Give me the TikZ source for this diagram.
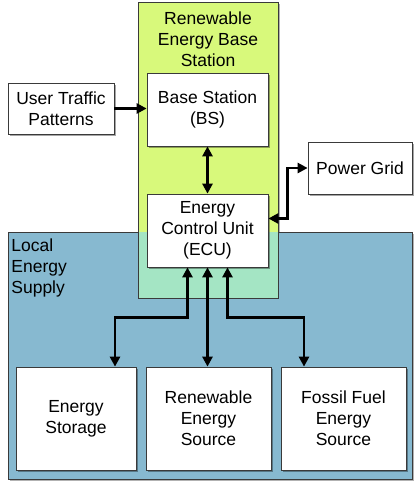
\documentclass[tikz,border=0pt]{standalone}
\usepackage{fontspec}
\setmainfont{Liberation Sans}
\usetikzlibrary{arrows.meta,shadows}
\tikzset{every picture/.style={line width=0.75pt}}
\definecolor{basegreen}{HTML}{D8F97B}
\definecolor{supplyblue}{HTML}{87B9D0}
\definecolor{overlapgreen}{HTML}{A4E5C4}
\definecolor{edgegray}{HTML}{3A3A3A}
\tikzset{
  unit/.style={draw=edgegray, fill=white, align=center, inner sep=2pt,
    drop shadow={shadow xshift=1.5pt, shadow yshift=-1.5pt, opacity=0.35, fill=black}},
  region/.style={draw=edgegray, line width=0.6pt,
    drop shadow={shadow xshift=1.5pt, shadow yshift=-1.5pt, opacity=0.3, fill=black}},
  flow/.style={line width=2.6pt, line join=miter}
}

\begin{document}
\begin{tikzpicture}[x=1pt, y=-1pt, >={Triangle[length=10pt,width=10pt]},
    every node/.style={font=\fontsize{17.5}{21}\selectfont}]
    \useasboundingbox (0,0) rectangle (413,485);
    % containers
    \fill[region, fill=basegreen] (138,2) rectangle (278,298);
    \fill[region, fill=supplyblue] (8,232) rectangle (412,479);
    \fill[overlapgreen] (138.3,232.3) rectangle (277.7,297.7);
    \draw[edgegray, line width=0.6pt] (138,232) -- (138,298) -- (278,298) -- (278,232);
    \node[align=center] (stationlabel) at (208,39) {Renewable\\Energy Base\\Station};
    \node[align=left, anchor=north west, inner sep=0pt] (supplylabel) at (11,238) {Local\\Energy\\Supply};
    % units
    \node[unit, minimum width=106pt, minimum height=51pt] (user) at (61,108.5) {User Traffic\\Patterns};
    \node[unit, minimum width=121pt, minimum height=73pt] (bs) at (207.5,109.5) {Base Station\\(BS)};
    \node[unit, minimum width=121pt, minimum height=73pt] (ecu) at (207.5,230.5) {Energy\\Control Unit\\(ECU)};
    \node[unit, minimum width=104pt, minimum height=52pt] (grid) at (360,168) {Power Grid};
    \node[unit, minimum width=120pt, minimum height=103pt] (storage) at (76,418.5) {Energy\\Storage};
    \node[unit, minimum width=125pt, minimum height=103pt] (renew) at (208.5,418.5) {Renewable\\Energy\\Source};
    \node[unit, minimum width=125pt, minimum height=103pt] (fossil) at (343.5,418.5) {Fossil Fuel\\Energy\\Source};
    % connectors
    \draw[flow, ->] (user.east) -- (user.east -| bs.west);
    \draw[flow, <->] (bs.south) -- (ecu.north);
    \draw[flow, <->] ([yshift=12pt]ecu.east) -| ([xshift=-20pt]grid.west) -- (grid.west);
    \draw[flow, <->] ([xshift=-20pt]ecu.south) -- ++(0,50) -| ([xshift=39pt]storage.north);
    \draw[flow, <->] (ecu.south) -- (ecu.south |- renew.north);
    \draw[flow, <->] ([xshift=20pt]ecu.south) -- ++(0,50) -| ([xshift=-39.5pt]fossil.north);
\end{tikzpicture}
\end{document}
